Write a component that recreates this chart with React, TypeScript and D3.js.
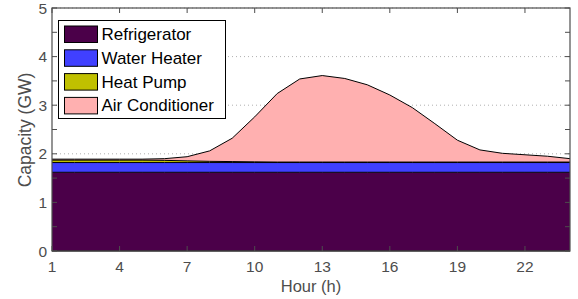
import * as d3 from 'd3';

const hours = d3.range(1, 25);
const refrigerator = [1.62, 1.62, 1.62, 1.62, 1.62, 1.62, 1.62, 1.62, 1.62, 1.62, 1.62, 1.62, 1.62, 1.62, 1.62, 1.62, 1.62, 1.62, 1.62, 1.62, 1.62, 1.62, 1.62, 1.62];
const waterHeater = [0.2, 0.2, 0.2, 0.2, 0.2, 0.2, 0.2, 0.2, 0.2, 0.2, 0.2, 0.2, 0.2, 0.2, 0.2, 0.2, 0.2, 0.2, 0.2, 0.2, 0.2, 0.2, 0.2, 0.2];
const heatPump = [0.05, 0.05, 0.05, 0.05, 0.05, 0.045, 0.035, 0.025, 0.02, 0.015, 0.01, 0.01, 0.01, 0.01, 0.01, 0.01, 0.01, 0.01, 0.01, 0.01, 0.01, 0.01, 0.01, 0.01];
const airConditioner = [0.02, 0.02, 0.02, 0.02, 0.02, 0.035, 0.085, 0.215, 0.48, 0.925, 1.41, 1.71, 1.78, 1.72, 1.59, 1.38, 1.12, 0.79, 0.45, 0.25, 0.18, 0.15, 0.12, 0.07];

const seriesNames = ['Refrigerator', 'Water Heater', 'Heat Pump', 'Air Conditioner'];
const seriesColors = ['#4b0049', '#4040ff', '#c0c000', '#ffb0b0'];
const xTicks = [1, 4, 7, 10, 13, 16, 19, 22];
const yTicks = [0, 1, 2, 3, 4, 5];

const W = 578, H = 299;
const m = { left: 52, right: 8, top: 8, bottom: 48 };

export default function App() {
  const table = hours.map((h, i) => ({
    hour: h,
    'Refrigerator': refrigerator[i],
    'Water Heater': waterHeater[i],
    'Heat Pump': heatPump[i],
    'Air Conditioner': airConditioner[i],
  }));
  const x = d3.scaleLinear().domain([1, 24]).range([m.left, W - m.right]);
  const y = d3.scaleLinear().domain([0, 5]).range([H - m.bottom, m.top]);
  const stacked = d3.stack<any>().keys(seriesNames)(table);
  const area = d3.area<any>().x(d => x(d.data.hour)).y0(d => y(d[0])).y1(d => y(d[1]));
  const line = d3.line<any>().x(d => x(d.data.hour)).y(d => y(d[1]));
  const minorY = d3.range(0, 5.01, 0.5);
  const axisColor = '#4d4d4d';
  const font = 'Liberation Sans, Arial, sans-serif';
  const x0 = x(1), x1 = x(24), yb = y(0), yt = y(5);

  return (
    <svg width={W} height={H} style={{ position: 'absolute', left: 0, top: 0, background: '#fff' }} fontFamily={font}>
      {yTicks.slice(1).map(t => (
        <line key={'g' + t} x1={x0} x2={x1} y1={y(t)} y2={y(t)} stroke="#b0b0b0" strokeDasharray="1,3" />
      ))}
      {stacked.map((s, i) => (
        <path key={'a' + i} d={area(s) || ''} fill={seriesColors[i]} stroke="none" />
      ))}
      {stacked.map((s, i) => (
        <path key={'l' + i} d={line(s) || ''} fill="none" stroke="#000" strokeWidth={1} />
      ))}
      <line x1={x0} x2={x1} y1={yb} y2={yb} stroke="#000" />
      {/* frame */}
      <rect x={x0} y={yt} width={x1 - x0} height={yb - yt} fill="none" stroke={axisColor} strokeWidth={1.2} />
      {minorY.map(t => (
        <g key={'yt' + t}>
          <line x1={x0} x2={x0 + 5} y1={y(t)} y2={y(t)} stroke={axisColor} />
          <line x1={x1} x2={x1 - 5} y1={y(t)} y2={y(t)} stroke={axisColor} />
        </g>
      ))}
      {xTicks.map(t => (
        <g key={'xt' + t}>
          <line x1={x(t)} x2={x(t)} y1={yt} y2={yt + 5} stroke={axisColor} />
          <line x1={x(t)} x2={x(t)} y1={yb} y2={yb - 5} stroke={axisColor} />
          <text x={x(t)} y={yb + 21} textAnchor="middle" fontSize={15.5} fill={axisColor}>{t}</text>
        </g>
      ))}
      {yTicks.map(t => (
        <text key={'yl' + t} x={x0 - 5} y={y(t) + 5.5} textAnchor="end" fontSize={15.5} fill={axisColor}>{t}</text>
      ))}
      <text x={311} y={H - 7} textAnchor="middle" fontSize={16.5} fill={axisColor}>Hour (h)</text>
      <text transform={`translate(${31},${130}) rotate(-90)`} textAnchor="middle" fontSize={17.5} fill={axisColor}>Capacity (GW)</text>
      {/* legend */}
      <g>
        <rect x={58.5} y={20.5} width={167} height={98} fill="#fff" stroke="#000" />
        {seriesNames.map((n, i) => (
          <g key={'lg' + n} transform={`translate(64.5,${26 + i * 23.8})`}>
            <rect width={33} height={16.5} fill={seriesColors[i]} stroke="#000" />
            <text x={37} y={14} fontSize={17} fill="#000">{n}</text>
          </g>
        ))}
      </g>
    </svg>
  );
}
